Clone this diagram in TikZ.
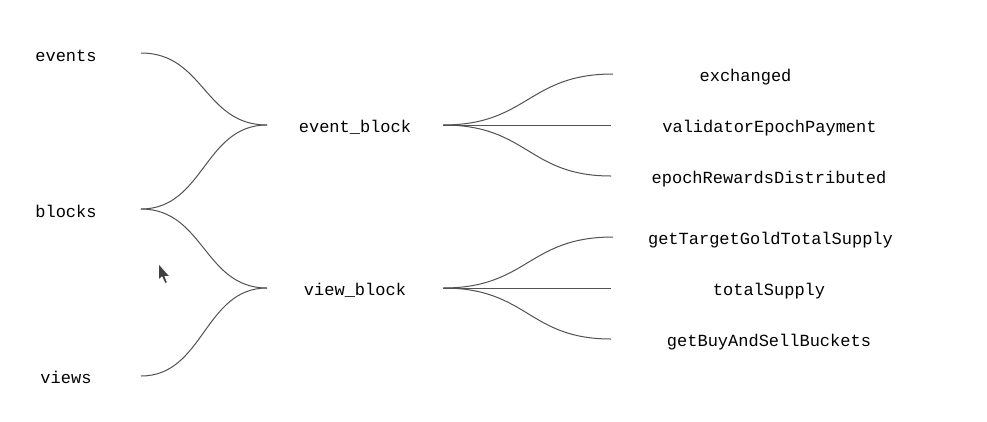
\documentclass[tikz,border=0pt]{standalone}
\usepackage{fontspec}
\setmonofont{Liberation Mono}
\begin{document}
\begin{tikzpicture}[x=1pt,y=-1pt,
  lbl/.style={font=\ttfamily\fontsize{17}{20}\selectfont, text=black, inner sep=0pt, anchor=base},
  link/.style={draw=black!68, line width=1pt},
]
\useasboundingbox[fill=white] (0,0) rectangle (987,421);
% labels
\node[lbl] (events) at (66,61) {events};
\node[lbl] (blocks) at (66,217) {blocks};
\node[lbl] (views) at (66,383) {views};
\node[lbl] (eventblock) at (355,132) {event\_block};
\node[lbl] (viewblock) at (355,295) {view\_block};
\node[lbl] (exchanged) at (745.5,81) {exchanged};
\node[lbl] (validator) at (769.5,132) {validatorEpochPayment};
\node[lbl] (rewards) at (769,183) {epochRewardsDistributed};
\node[lbl] (target) at (770.5,244) {getTargetGoldTotalSupply};
\node[lbl] (total) at (769,295) {totalSupply};
\node[lbl] (buckets) at (769,346) {getBuyAndSellBuckets};
% connector end points
\coordinate (eventsR) at (141,53);
\coordinate (blocksR) at (141,209);
\coordinate (viewsR) at (141,376);
\coordinate (ebL) at (267,125);
\coordinate (vbL) at (267,288);
\coordinate (ebR) at (443,125);
\coordinate (vbR) at (443,288);
\coordinate (exL) at (613,74);
\coordinate (vaL) at (611,125);
\coordinate (reL) at (611,176);
\coordinate (taL) at (613,237);
\coordinate (toL) at (611,288);
\coordinate (buL) at (611,339);
% left curves
\draw[link] (eventsR) .. controls (204,53) and (204,125) .. (ebL);
\draw[link] (blocksR) .. controls (204,209) and (204,125) .. (ebL);
\draw[link] (blocksR) .. controls (204,209) and (204,288) .. (vbL);
\draw[link] (viewsR) .. controls (204,376) and (204,288) .. (vbL);
% right curves
\draw[link] (ebR) .. controls (528,125) and (528,74) .. (exL);
\draw[link] (ebR) -- (vaL);
\draw[link] (ebR) .. controls (528,125) and (528,176) .. (reL);
\draw[link] (vbR) .. controls (528,288) and (528,237) .. (taL);
\draw[link] (vbR) -- (toL);
\draw[link] (vbR) .. controls (528,288) and (528,339) .. (buL);
% mouse cursor
\draw[fill=black!75, draw=white, line width=0.8pt, line join=round]
  (158.5,263.5) -- (158.5,280) -- (162,277) -- (165,283.5) -- (167.5,282.5) -- (165,276.5) -- (170,276.5) -- cycle;
\end{tikzpicture}
\end{document}
